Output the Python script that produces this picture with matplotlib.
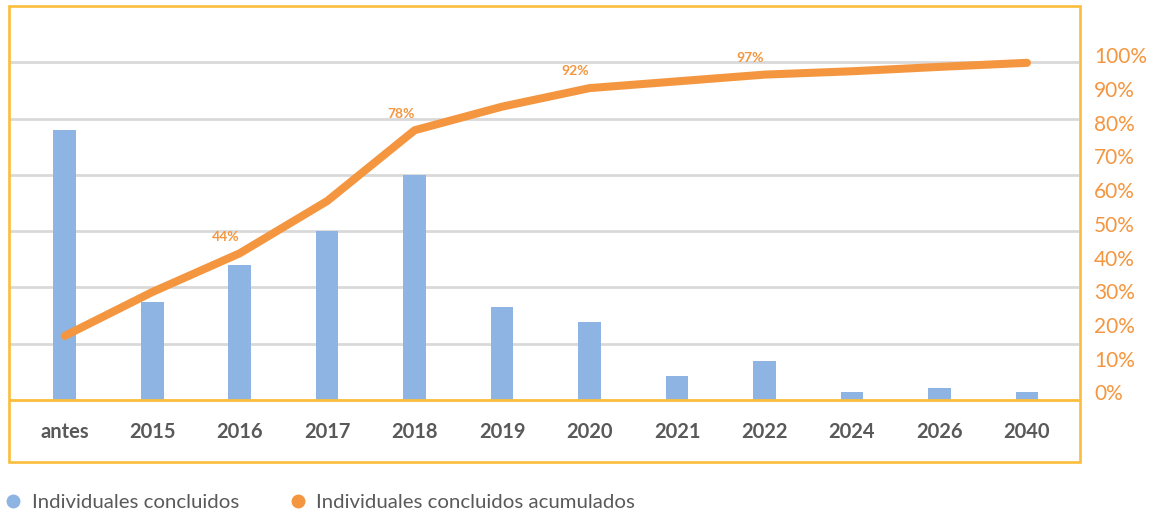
import matplotlib
matplotlib.use("Agg")
import matplotlib.pyplot as plt
from matplotlib.lines import Line2D
from matplotlib.patches import Rectangle
from matplotlib.transforms import ScaledTranslation

plt.rcParams["font.family"] = ["Lato", "DejaVu Sans"]

# --- data ---
categories = ["antes", "2015", "2016", "2017", "2018", "2019",
              "2020", "2021", "2022", "2024", "2026", "2040"]
concluidos = [48.0, 17.4, 24.0, 30.0, 40.0, 16.5, 13.8, 4.3, 6.9, 1.4, 2.1, 1.4]
acumulados = [19, 32, 43.5, 59, 80, 87, 92.5, 94.5, 96.5, 97.5, 98.8, 100]
pct_labels = ["", "", "44%", "", "78%", "", "92%", "", "97%", "", "", ""]
right_ticks = [0, 10, 20, 30, 40, 50, 60, 70, 80, 90, 100]

BLUE = "#8DB4E2"
ORANGE = "#F4963F"
YELLOW = "#FBBD3C"
GRID = "#D9D9D9"
TEXT = "#595959"

W, H = 1155, 515
fig = plt.figure(figsize=(W / 100, H / 100), dpi=100)

# plot area in pixel terms: x 10..1079, baseline y=400, top y=20
ax = fig.add_axes([10 / W, (H - 400) / H, 1069 / W, 380 / H])
x = list(range(len(categories)))

ax.bar(x, concluidos, width=0.26, color=BLUE, zorder=2)
ax.set_xlim(-0.625, 11.595)
ax.set_ylim(0, 67.5)
ax.set_yticks([10, 20, 30, 40, 50, 60])
ax.yaxis.grid(True, color=GRID, linewidth=2.0)
ax.set_axisbelow(True)
ax.set_xticks(x)
ax.set_xticklabels(categories, fontsize=14.5, fontweight="bold", color=TEXT)
for side in ["left", "right", "top"]:
    ax.spines[side].set_visible(False)
ax.spines["bottom"].set_color(YELLOW)
ax.spines["bottom"].set_linewidth(2.0)
ax.spines["bottom"].set_zorder(3)

ax2 = ax.twinx()
# twinx turns the left ticks back on, so hide them afterwards
ax.tick_params(axis="y", left=False, right=False, labelleft=False)
ax.tick_params(axis="x", length=0, pad=16)

ax2.plot(x, acumulados, color=ORANGE, linewidth=5.8,
         solid_capstyle="round", solid_joinstyle="round", zorder=4)
ax2.set_ylim(0, 112.7)
ax2.set_yticks(right_ticks)
ax2.set_yticklabels([f"{t}%" for t in right_ticks], fontsize=15, color=ORANGE)
ax2.tick_params(axis="y", length=0, pad=11)
for side in ["left", "right", "top", "bottom"]:
    ax2.spines[side].set_visible(False)
shift = ScaledTranslation(0, 7.5 / 100, fig.dpi_scale_trans)
for lab in ax2.get_yticklabels():
    lab.set_transform(lab.get_transform() + shift)

for i, txt in enumerate(pct_labels):
    if txt:
        ax2.annotate(txt, (x[i], acumulados[i]), xytext=(-10, 12),
                     textcoords="offset points", ha="center", va="center",
                     fontsize=10, fontweight="bold", color=ORANGE)

# outer chart border
fig.patches.append(Rectangle((9 / W, (H - 462) / H), 1071 / W, 456 / H,
                             transform=fig.transFigure, fill=False,
                             edgecolor=YELLOW, linewidth=1.9))

handles = [Line2D([], [], marker="o", linestyle="none", color=BLUE, markersize=9),
           Line2D([], [], marker="o", linestyle="none", color=ORANGE, markersize=9)]
fig.legend(handles, ["Individuales concluidos", "Individuales concluidos acumulados"],
           loc="center left", bbox_to_anchor=(0.0, (H - 502) / H), ncol=2,
           frameon=False, fontsize=14.7, labelcolor=TEXT,
           handlelength=0.7, handletextpad=0.55, columnspacing=2.55,
           borderaxespad=0.0, borderpad=0.3)

fig.savefig("out.png", dpi=100)
